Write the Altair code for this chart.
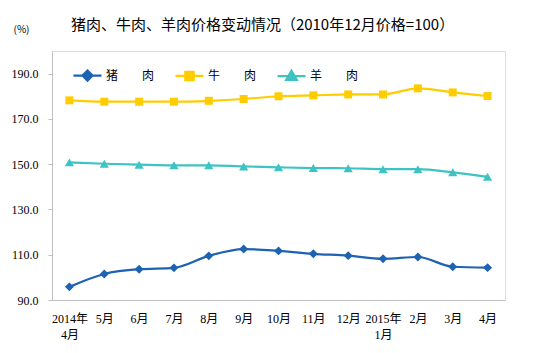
import altair as alt
import pandas as pd

months = ["2014年|4月", "5月", "6月", "7月", "8月", "9月", "10月", "11月", "12月",
          "2015年|1月", "2月", "3月", "4月"]
series_names = ["猪肉", "牛肉", "羊肉"]
pork = [95.8, 101.5, 103.6, 104.2, 109.5, 112.5, 111.7, 110.4, 109.6, 108.2, 109.0, 104.7, 104.3]
beef = [178.2, 177.6, 177.6, 177.6, 178.0, 178.8, 180.0, 180.4, 180.8, 180.8, 183.5, 181.7, 180.1]
mutton = [150.8, 150.2, 149.8, 149.5, 149.5, 149.0, 148.6, 148.3, 148.2, 147.8, 147.8, 146.4, 144.4]
colors = ["#1E62B2", "#FFCC00", "#3EC3C3"]
marker_shapes = ["diamond", "square", "triangle-up"]
legend_paths = [
    "M-1,0L1,0M0,-0.36L0.36,0L0,0.36L-0.36,0Z",
    "M-1,0L1,0M-0.3,-0.3L0.3,-0.3L0.3,0.3L-0.3,0.3Z",
    "M-1,0L1,0M0,-0.38L0.38,0.28L-0.38,0.28Z",
]

rows = []
for name, vals in zip(series_names, [pork, beef, mutton]):
    for m, v in zip(months, vals):
        rows.append({"month": m, "series": name, "value": v})
df = pd.DataFrame(rows)

LAB_FONT = "Liberation Serif, Noto Sans CJK SC"
CJK_FONT = "Noto Sans CJK SC"

x_enc = alt.X("month:N", sort=months, title=None,
              axis=alt.Axis(labelAngle=0, ticks=False, labelExpr="split(datum.value, '|')",
                            labelFont=LAB_FONT, labelFontSize=12, labelColor="#000000",
                            labelPadding=13, labelLineHeight=16, domainColor="#BFBFBF"))
y_enc = alt.Y("value:Q", scale=alt.Scale(domain=[90, 200], nice=False, zero=False),
              axis=alt.Axis(values=[90, 110, 130, 150, 170, 190], format=".1f", grid=False,
                            tickSize=4, tickColor="#BFBFBF", domainColor="#BFBFBF",
                            labelFont=LAB_FONT, labelFontSize=12, labelColor="#000000",
                            labelPadding=10,
                            title="(%)", titleAngle=0, titleX=-31, titleY=-22,
                            titleAlign="center", titleBaseline="middle",
                            titleFont=CJK_FONT, titleFontSize=10, titleFontWeight="normal",
                            titleColor="#000000"))
color_scale = alt.Scale(domain=series_names, range=colors)

base = alt.Chart(df)

leg = alt.Legend(title=None, orient="none", legendX=20, legendY=9,
                 direction="horizontal", columns=3, padding=0,
                 columnPadding=16, labelOffset=3, symbolSize=784,
                 symbolStrokeWidth=2.2, symbolOpacity=1,
                 labelFont=CJK_FONT, labelFontSize=12, labelColor="#000000",
                 labelExpr="substring(datum.label,0,1) + '\u3000\u3000' + substring(datum.label,1)")

legend_layer = base.mark_point(filled=True, size=4, strokeWidth=0.5).encode(
    x=x_enc, y=y_enc,
    fill=alt.Fill("series:N", scale=alt.Scale(domain=series_names, range=colors), legend=leg),
    stroke=alt.Stroke("series:N", scale=alt.Scale(domain=series_names, range=colors), legend=leg),
    shape=alt.Shape("series:N", scale=alt.Scale(domain=series_names, range=legend_paths), legend=leg),
)

lines = base.mark_line(strokeWidth=2.2, interpolate="monotone").encode(
    x=x_enc, y=y_enc,
    color=alt.Color("series:N", scale=color_scale, legend=None),
    detail="series:N",
)

point_layers = []
for name, shp, sz in zip(series_names, marker_shapes, [80, 64, 85]):
    point_layers.append(
        base.transform_filter(alt.datum.series == name)
        .mark_point(shape=shp, filled=True, size=sz, opacity=1)
        .encode(x=x_enc, y=y_enc,
                color=alt.Color("series:N", scale=color_scale, legend=None))
    )

chart = alt.layer(legend_layer, lines, *point_layers).properties(
    width=453, height=249,
    autosize=alt.AutoSizeParams(type="none"),
    padding={"left": 52, "top": 51, "right": 42, "bottom": 53},
    title=alt.Title("猪肉、牛肉、羊肉价格变动情况（2010年12月价格=100）",
                    font=CJK_FONT, fontSize=15, fontWeight="normal", color="#000000",
                    anchor="middle", frame="group", dx=-16, offset=0, dy=9),
).configure_view(stroke="#BFBFBF", strokeWidth=1).configure(background="white")

chart.save("out.html", embed_options={"renderer": "svg", "actions": False})
